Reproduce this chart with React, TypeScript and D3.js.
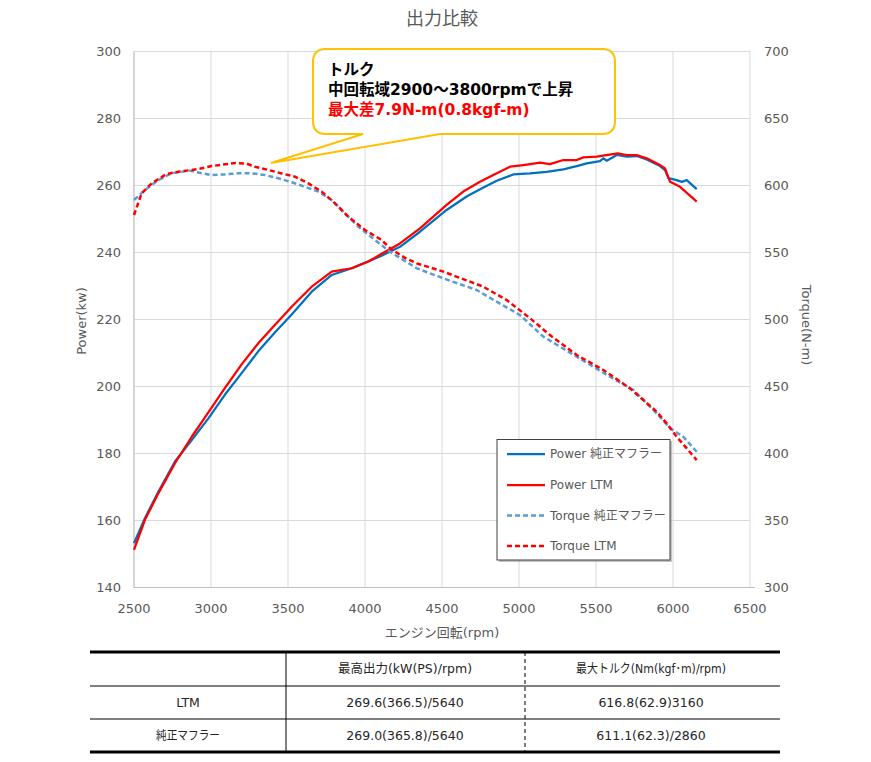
import React, { useEffect, useRef } from 'react';
import * as d3 from 'd3';

type Pt = [number, number];

// rpm, kW
const powerStock: Pt[] = [
  [2500, 153.2], [2571, 160.7], [2658, 168.6], [2766, 177.6], [2875, 184.0],
  [2983, 190.5], [3091, 197.6], [3199, 204.0], [3307, 210.5], [3416, 216.2],
  [3524, 221.5], [3654, 228.3], [3784, 233.3], [3914, 235.3], [4044, 237.8],
  [4097, 238.8], [4227, 241.7], [4357, 246.2], [4530, 252.7], [4660, 256.7],
  [4747, 258.9], [4855, 261.4], [4963, 263.3], [5072, 263.6], [5180, 264.1],
  [5288, 264.8], [5375, 265.8], [5440, 266.6], [5526, 267.3], [5548, 268.1],
  [5570, 267.4], [5635, 269.1], [5700, 268.6], [5764, 268.8], [5829, 267.8],
  [5916, 265.8], [5948, 264.6], [5970, 262.2], [6024, 261.6], [6057, 261.1],
  [6089, 261.6], [6154, 258.9],
];

const powerLtm: Pt[] = [
  [2500, 151.2], [2571, 160.2], [2658, 168.1], [2766, 177.1], [2875, 185.0],
  [2983, 192.3], [3091, 199.6], [3199, 206.6], [3307, 212.9], [3416, 218.4],
  [3524, 223.8], [3654, 229.8], [3784, 234.3], [3914, 235.3], [4022, 237.3],
  [4097, 239.3], [4227, 242.7], [4357, 247.2], [4530, 254.2], [4638, 258.2],
  [4747, 261.1], [4833, 263.1], [4942, 265.6], [5028, 266.1], [5137, 266.8],
  [5201, 266.4], [5288, 267.6], [5375, 267.6], [5418, 268.4], [5505, 268.6],
  [5640, 269.6], [5700, 269.1], [5764, 269.1], [5829, 268.1], [5916, 266.1],
  [5948, 265.1], [5981, 261.1], [6046, 259.6], [6154, 255.2],
];

// rpm, N-m
const torqueStock: Pt[] = [
  [2500, 589.2], [2571, 596.6], [2658, 604.1], [2745, 609.1], [2860, 611.1],
  [2940, 609.1], [3005, 607.8], [3091, 608.3], [3177, 609.1], [3264, 609.1],
  [3351, 607.8], [3437, 605.4], [3524, 602.4], [3610, 599.1], [3697, 595.4],
  [3784, 589.2], [3870, 579.2], [3957, 569.2], [4065, 559.3], [4162, 550.6],
  [4336, 538.2], [4509, 530.7], [4725, 522.0], [4855, 513.3], [5007, 503.3],
  [5158, 487.2], [5375, 472.2], [5591, 457.3], [5743, 447.4], [5894, 430.0],
  [5981, 418.8], [6067, 412.5], [6154, 401.3],
];

const torqueLtm: Pt[] = [
  [2500, 578.0], [2550, 594.2], [2615, 601.6], [2712, 608.6], [2788, 610.3],
  [2875, 611.6], [2940, 612.8], [3005, 614.5], [3091, 615.8], [3160, 616.8],
  [3232, 616.3], [3286, 614.0], [3372, 611.6], [3459, 609.0], [3545, 606.6],
  [3632, 601.6], [3719, 595.4], [3805, 586.7], [3892, 576.7], [4000, 566.8],
  [4108, 559.3], [4170, 552.5], [4260, 546.0], [4336, 541.9], [4509, 535.7],
  [4768, 524.5], [4920, 514.5], [5072, 500.9], [5201, 488.4], [5375, 473.5],
  [5548, 462.3], [5721, 448.6], [5894, 431.2], [5959, 422.5], [6024, 412.5],
  [6154, 395.1],
];

const rpmTicks = [2500, 3000, 3500, 4000, 4500, 5000, 5500, 6000, 6500];
const powerTicks = [140, 160, 180, 200, 220, 240, 260, 280, 300];
const torqueTicks = [300, 350, 400, 450, 500, 550, 600, 650, 700];

const seriesNames = ['Power 純正マフラー', 'Power LTM', 'Torque 純正マフラー', 'Torque LTM'];

const calloutLines = ['トルク', '中回転域2900〜3800rpmで上昇', '最大差7.9N-m(0.8kgf-m)'];

const tableHeader = ['', '最高出力(kW(PS)/rpm)', '最大トルク(Nm(kgf･m)/rpm)'];
const tableRows = [
  ['LTM', '269.6(366.5)/5640', '616.8(62.9)3160'],
  ['純正マフラー', '269.0(365.8)/5640', '611.1(62.3)/2860'],
];

const FONT = '"DejaVu Sans", "Noto Sans CJK JP", sans-serif';
const GREY = '#595959';

export default function App() {
  const ref = useRef<SVGSVGElement>(null);

  useEffect(() => {
    if (!ref.current) return;
    const svg = d3.select(ref.current);
    svg.selectAll('*').remove();
    svg.attr('font-family', FONT);

    const left = 134, right = 750, top = 51.5, bottom = 587.5;

    const x = d3.scaleLinear().domain([2500, 6500]).range([left, right]);
    const yP = d3.scaleLinear().domain([140, 300]).range([bottom, top]);
    const yT = d3.scaleLinear().domain([300, 700]).range([bottom, top]);

    // Title
    svg.append('text')
      .attr('x', 442).attr('y', 25)
      .attr('text-anchor', 'middle')
      .attr('fill', GREY).attr('font-size', '18px')
      .text('出力比較');

    // Grid
    const grid = svg.append('g');
    grid.selectAll('.h').data(powerTicks).enter().append('line')
      .attr('x1', left).attr('x2', right)
      .attr('y1', d => yP(d)).attr('y2', d => yP(d))
      .attr('stroke', '#d9d9d9').attr('stroke-width', 1);
    grid.selectAll('.v').data(rpmTicks).enter().append('line')
      .attr('x1', d => x(d)).attr('x2', d => x(d))
      .attr('y1', top).attr('y2', bottom)
      .attr('stroke', '#d9d9d9').attr('stroke-width', 1);

    // Axis lines
    svg.append('line')
      .attr('x1', left).attr('x2', left).attr('y1', top).attr('y2', bottom)
      .attr('stroke', '#bfbfbf');
    svg.append('line')
      .attr('x1', left).attr('x2', right + 5).attr('y1', bottom).attr('y2', bottom)
      .attr('stroke', '#bfbfbf');

    // Tick labels
    svg.selectAll('.pl').data(powerTicks).enter().append('text')
      .attr('x', 121).attr('y', d => yP(d)).attr('dy', '0.35em')
      .attr('text-anchor', 'end').attr('fill', GREY).attr('font-size', '13px')
      .text(d => d);
    svg.selectAll('.tl').data(torqueTicks).enter().append('text')
      .attr('x', 764).attr('y', d => yT(d)).attr('dy', '0.35em')
      .attr('fill', GREY).attr('font-size', '13px')
      .text(d => d);
    svg.selectAll('.xl').data(rpmTicks).enter().append('text')
      .attr('x', d => x(d)).attr('y', 608).attr('dy', '0.35em')
      .attr('text-anchor', 'middle').attr('fill', GREY).attr('font-size', '13px')
      .text(d => d);

    // Axis titles
    svg.append('text')
      .attr('transform', 'translate(86,321) rotate(-90)')
      .attr('text-anchor', 'middle').attr('fill', GREY).attr('font-size', '13px')
      .text('Power(kw)');
    svg.append('text')
      .attr('transform', 'translate(802,325) rotate(90)')
      .attr('text-anchor', 'middle').attr('fill', GREY).attr('font-size', '13px')
      .text('Torque(N-m)');
    svg.append('text')
      .attr('x', 442).attr('y', 632).attr('dy', '0.35em')
      .attr('text-anchor', 'middle').attr('fill', GREY).attr('font-size', '13px')
      .text('エンジン回転(rpm)');

    // Lines
    const lineP = d3.line<Pt>().x(d => x(d[0])).y(d => yP(d[1]));
    const lineT = d3.line<Pt>().x(d => x(d[0])).y(d => yT(d[1]));

    const series = [
      { data: powerStock, gen: lineP, color: '#0070C0', dash: null, w: 2.25 },
      { data: powerLtm, gen: lineP, color: '#FF0000', dash: null, w: 2.25 },
      { data: torqueStock, gen: lineT, color: '#5B9BD5', dash: '5,3', w: 2.5 },
      { data: torqueLtm, gen: lineT, color: '#FF0000', dash: '5,3', w: 2.5 },
    ];
    series.forEach(s => {
      svg.append('path')
        .attr('d', s.gen(s.data) || '')
        .attr('fill', 'none')
        .attr('stroke', s.color)
        .attr('stroke-width', s.w)
        .attr('stroke-linejoin', 'round')
        .attr('stroke-dasharray', s.dash);
    });

    // Callout
    const bx0 = 313, by0 = 49, bx1 = 615, by1 = 134, r = 13;
    const tipX = 271, tipY = 163, tailL = 363, tailR = 440;
    const callout = [
      `M${bx0 + r},${by0}`,
      `H${bx1 - r}`, `Q${bx1},${by0} ${bx1},${by0 + r}`,
      `V${by1 - r}`, `Q${bx1},${by1} ${bx1 - r},${by1}`,
      `H${tailR}`, `L${tipX},${tipY}`, `L${tailL},${by1}`,
      `H${bx0 + r}`, `Q${bx0},${by1} ${bx0},${by1 - r}`,
      `V${by0 + r}`, `Q${bx0},${by0} ${bx0 + r},${by0}`, 'Z',
    ].join(' ');
    svg.append('path')
      .attr('d', callout)
      .attr('fill', '#fff')
      .attr('stroke', '#FFC000')
      .attr('stroke-width', 2);
    svg.selectAll('.co').data(calloutLines).enter().append('text')
      .attr('x', 328).attr('y', (d, i) => 75 + i * 20)
      .attr('font-size', '15.5px').attr('font-weight', 'bold')
      .attr('fill', (d, i) => (i === 2 ? '#FF0000' : '#000'))
      .text(d => d);

    // Legend
    const lg = svg.append('g');
    lg.append('rect')
      .attr('x', 499).attr('y', 441).attr('width', 173).attr('height', 121)
      .attr('fill', '#9a9a9a').attr('opacity', 0.6);
    lg.append('rect')
      .attr('x', 497).attr('y', 439.5).attr('width', 173).attr('height', 120.5)
      .attr('fill', '#fff').attr('stroke', '#404040').attr('stroke-width', 1);
    const rowY = [454, 485, 515.5, 546];
    series.forEach((s, i) => {
      lg.append('line')
        .attr('x1', 507).attr('x2', 545)
        .attr('y1', rowY[i]).attr('y2', rowY[i])
        .attr('stroke', s.color).attr('stroke-width', s.w)
        .attr('stroke-dasharray', s.dash);
      lg.append('text')
        .attr('x', 550).attr('y', rowY[i]).attr('dy', '0.35em')
        .attr('fill', GREY).attr('font-size', '12px')
        .text(seriesNames[i]);
    });

    // Table
    const tb = svg.append('g');
    const tx0 = 90, tx1 = 780;
    const lineYs = [652, 686, 719, 752];
    lineYs.forEach((ly, i) => {
      const thick = i === 0 || i === lineYs.length - 1;
      tb.append('line')
        .attr('x1', tx0).attr('x2', tx1).attr('y1', ly).attr('y2', ly)
        .attr('stroke', '#000').attr('stroke-width', thick ? 3 : 1);
    });
    tb.append('line')
      .attr('x1', 286).attr('x2', 286).attr('y1', 652).attr('y2', 752)
      .attr('stroke', '#000').attr('stroke-width', 1);
    tb.append('line')
      .attr('x1', 525).attr('x2', 525).attr('y1', 652).attr('y2', 752)
      .attr('stroke', '#000').attr('stroke-width', 1)
      .attr('stroke-dasharray', '4,3');
    const colX = [188, 405, 651];
    const rowsAll = [tableHeader, ...tableRows];
    const textY = [669, 702.5, 735.5];
    rowsAll.forEach((row, ri) => {
      row.forEach((cell, ci) => {
        const t = tb.append('text')
          .attr('x', colX[ci]).attr('y', textY[ri]).attr('dy', '0.35em')
          .attr('text-anchor', 'middle')
          .attr('fill', '#262626').attr('font-size', '12.5px')
          .text(cell);
        // narrow kana as in the original table font
        if (cell === '純正マフラー') t.attr('textLength', 64).attr('lengthAdjust', 'spacingAndGlyphs');
        if (ci === 2 && ri === 0) t.attr('textLength', 150).attr('lengthAdjust', 'spacingAndGlyphs');
      });
    });
  }, []);

  return (
    <svg
      ref={ref}
      width={871}
      height={762}
      style={{ position: 'absolute', left: 0, top: 0, background: '#fff' }}
    />
  );
}
